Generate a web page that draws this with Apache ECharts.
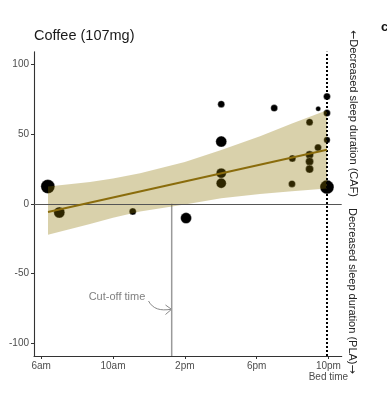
<!DOCTYPE html>
<html>
<head>
<meta charset="utf-8">
<script src="https://cdn.jsdelivr.net/npm/echarts@6/dist/echarts.min.js"></script>
<style>
html,body{margin:0;padding:0;background:#fff;}
#chart{width:387px;height:400px;}
</style>
</head>
<body>
<div id="chart"></div>
<script>
// ---- data ----
var titleText = 'Coffee (107mg)';
var pointHours  = [6.37, 7.01, 11.10, 14.07, 16.03, 16.03, 16.03, 16.03, 18.98, 19.99, 19.97, 20.95, 20.95, 20.95, 20.95, 21.43, 21.42, 21.92, 21.92, 21.92, 21.92];
var pointValues = [12.4, -6.2, -5.5, -10.2, 71.4, 44.6, 22.0, 14.8, 68.6, 32.5, 14.3, 58.5, 35.1, 30.3, 24.9, 68.1, 40.3, 76.9, 65.0, 45.8, 12.0];
var pointSizes  = [14, 11, 7, 11, 7, 11, 10, 10, 7, 7, 7, 7, 8, 8, 8, 5, 7, 7, 7, 6.5, 14];
var fitHours  = [6.38, 21.92];
var fitValues = [-5.9, 38.7];
var bandHours = [6.38, 8.72, 10.0, 11.51, 14.0, 16.03, 18.19, 19.97, 21.92];
var bandUpper = [12.4, 15.6, 18.2, 22.0, 30.0, 38.5, 48.5, 57.5, 67.0];
var bandLower = [-22.2, -14.5, -10.0, -5.5, -0.5, 4.0, 7.0, 9.0, 11.0];
var cutoffHour = 13.27;
var bedHour = 21.92;
var xTickValues = [6, 10, 14, 18, 22];
var xTickLabels = ['6am', '10am', '2pm', '6pm', '10pm\nBed time'];
var yTickValues = [-100, -50, 0, 50, 100];
var yTickLabels = ['-100', '-50', '0', '50', '100'];

var FONT = '"Liberation Sans", Arial, sans-serif';
var chart = echarts.init(document.getElementById('chart'), null, {renderer: 'canvas'});

var scatterData = pointHours.map(function (h, i) { return [h, pointValues[i], pointSizes[i]]; });
var fitData = fitHours.map(function (h, i) { return [h, fitValues[i]]; });

var option = {
  animation: false,
  backgroundColor: '#fff',
  grid: {left: 34, right: 45.3, top: 51.7, bottom: 44, containLabel: false, outerBoundsMode: 'none'},
  xAxis: {
    type: 'value', min: 5.6, max: 22.74,
    splitLine: {show: false},
    axisLine: {show: true, onZero: false, lineStyle: {color: '#333', width: 1.1}},
    axisTick: {show: true, customValues: xTickValues, length: 3, lineStyle: {color: '#333', width: 1}},
    axisLabel: {
      customValues: xTickValues, margin: 5, color: '#4d4d4d', fontSize: 10, fontFamily: FONT, lineHeight: 11,
      formatter: function (v) { var i = xTickValues.indexOf(v); return i >= 0 ? xTickLabels[i] : ''; }
    }
  },
  yAxis: {
    type: 'value', min: -109, max: 109,
    splitLine: {show: false},
    axisLine: {show: true, onZero: false, lineStyle: {color: '#333', width: 1.1}},
    axisTick: {show: true, customValues: yTickValues, length: 3, lineStyle: {color: '#333', width: 1}},
    axisLabel: {
      customValues: yTickValues, margin: 5, color: '#4d4d4d', fontSize: 10, fontFamily: FONT,
      formatter: function (v) { var i = yTickValues.indexOf(v); return i >= 0 ? yTickLabels[i] : ''; }
    }
  },
  series: [
    {
      type: 'line', name: 'cutoff', z: 1, silent: true, symbol: 'none',
      data: [[cutoffHour, 0], [cutoffHour, -109]],
      lineStyle: {color: '#9a9a9a', width: 1.5},
      markLine: {
        silent: true, symbol: 'none', label: {show: false},
        data: [
          {yAxis: 0, lineStyle: {color: '#555', width: 1.1, type: 'solid'}},
          {xAxis: bedHour, lineStyle: {color: '#000', width: 2, type: [2, 2]}}
        ]
      }
    },
    {
      type: 'scatter', name: 'points', z: 3,
      data: scatterData,
      symbolSize: function (d) { return d[2]; },
      itemStyle: {color: '#000', borderColor: 'rgba(255,255,255,0.55)', borderWidth: 0.6, opacity: 1}
    },
    {
      type: 'custom', name: 'band', z: 4, silent: true,
      data: [0],
      renderItem: function (params, api) {
        var pts = [];
        for (var i = 0; i < bandHours.length; i++) pts.push(api.coord([bandHours[i], bandUpper[i]]));
        for (var j = bandHours.length - 1; j >= 0; j--) pts.push(api.coord([bandHours[j], bandLower[j]]));
        return {type: 'polygon', shape: {points: pts}, style: {fill: 'rgba(139,115,0,0.33)'}};
      }
    },
    {
      type: 'line', name: 'fit', z: 5, silent: true, symbol: 'none',
      data: fitData,
      lineStyle: {color: '#8a6c0c', width: 2}
    }
  ],
  graphic: [
    {type: 'text', left: 34, top: 28, style: {text: titleText, font: '14.5px ' + FONT, fill: '#1a1a1a'}},
    {type: 'text', x: 353, y: 30, rotation: -Math.PI / 2,
     style: {text: '{a|\u2190}Decreased sleep duration (CAF)', font: '11px ' + FONT, fill: '#222', textAlign: 'left', textVerticalAlign: 'middle',
             rich: {a: {fontFamily: '"DejaVu Sans", sans-serif', fontSize: 11, fill: '#222'}}}},
    {type: 'text', x: 352, y: 208, rotation: -Math.PI / 2,
     style: {text: 'Decreased sleep duration (PLA){a|\u2192}', font: '11px ' + FONT, fill: '#222', textAlign: 'left', textVerticalAlign: 'middle',
             rich: {a: {fontFamily: '"DejaVu Sans", sans-serif', fontSize: 11, fill: '#222'}}}},
    {type: 'text', x: 381, y: 27, style: {text: 'c', font: 'bold 13px ' + FONT, fill: '#111', textAlign: 'left', textVerticalAlign: 'middle'}},
    {type: 'text', x: 117, y: 297, style: {text: 'Cut-off time', font: '11px ' + FONT, fill: '#808080', textAlign: 'center', textVerticalAlign: 'middle'}},
    {type: 'bezierCurve', shape: {x1: 148.5, y1: 301, cpx1: 153, cpy1: 309, cpx2: 160, cpy2: 311, x2: 171, y2: 309.3},
     style: {stroke: '#888', lineWidth: 1, fill: null}},
    {type: 'polyline', shape: {points: [[165.5, 305], [171.5, 309.3], [165.5, 314.5]]},
     style: {stroke: '#888', lineWidth: 1, fill: null}}
  ]
};
chart.setOption(option);
</script>
</body>
</html>
